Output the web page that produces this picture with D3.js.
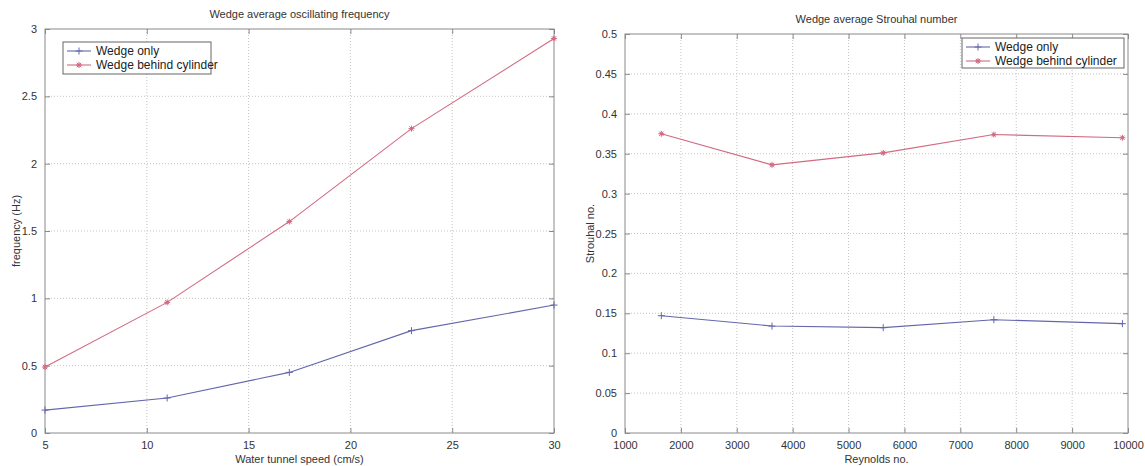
<!DOCTYPE html>
<html>
<head>
<meta charset="utf-8">
<script src="https://cdn.jsdelivr.net/npm/d3@7"></script>
<style>
  html, body { margin: 0; padding: 0; background: #ffffff; }
  svg { display: block; font-family: "Liberation Sans", Arial, sans-serif; }
</style>
</head>
<body>
<svg id="chart" width="1145" height="466"></svg>
<script>
// ---- Left chart data ----
const speedCategories = [5, 11, 17, 23, 30];
const freqWedgeOnly = [0.17, 0.26, 0.45, 0.76, 0.95];
const freqBehindCylinder = [0.49, 0.97, 1.57, 2.26, 2.93];
const leftXTicks = [5, 10, 15, 20, 25, 30];
const leftYTicks = [0, 0.5, 1, 1.5, 2, 2.5, 3];

// ---- Right chart data ----
const reynoldsCategories = [1650, 3630, 5620, 7600, 9900];
const strouhalWedgeOnly = [0.147, 0.134, 0.132, 0.142, 0.137];
const strouhalBehindCylinder = [0.375, 0.336, 0.351, 0.374, 0.370];
const rightXTicks = [1000, 2000, 3000, 4000, 5000, 6000, 7000, 8000, 9000, 10000];
const rightYTicks = [0, 0.05, 0.1, 0.15, 0.2, 0.25, 0.3, 0.35, 0.4, 0.45, 0.5];

const seriesNames = ["Wedge only", "Wedge behind cylinder"];
const BLUE = "#6466ac";
const RED = "#d26a82";
const TEXT = "#333333";
const AXIS = "#8a8a8a";
const GRID = "#c4c4c4";

const svg = d3.select("#chart");

function drawPanel(cfg) {
  const g = svg.append("g");
  const x = d3.scaleLinear().domain(cfg.xDomain).range([cfg.left, cfg.right]);
  const y = d3.scaleLinear().domain(cfg.yDomain).range([cfg.bottom, cfg.top]);
  const W = cfg.right - cfg.left, H = cfg.bottom - cfg.top;

  // grid
  const grid = g.append("g");
  grid.selectAll("line.gx").data(cfg.xTicks.slice(1, -1)).enter().append("line")
    .attr("x1", d => x(d)).attr("x2", d => x(d))
    .attr("y1", cfg.top).attr("y2", cfg.bottom)
    .attr("stroke", GRID).attr("stroke-width", 1).attr("stroke-dasharray", "1,2");
  grid.selectAll("line.gy").data(cfg.yTicks.slice(1, -1)).enter().append("line")
    .attr("y1", d => y(d)).attr("y2", d => y(d))
    .attr("x1", cfg.left).attr("x2", cfg.right)
    .attr("stroke", GRID).attr("stroke-width", 1).attr("stroke-dasharray", "1,2");

  // axes (inward ticks, MATLAB style)
  const fmt = d => String(d);
  g.append("g").attr("transform", `translate(0,${cfg.bottom})`)
    .call(d3.axisBottom(x).tickValues(cfg.xTicks).tickSize(-5).tickPadding(8).tickFormat(fmt))
    .call(a => { a.select(".domain").remove(); });
  g.append("g").attr("transform", `translate(0,${cfg.top})`)
    .call(d3.axisTop(x).tickValues(cfg.xTicks).tickSize(-5).tickFormat(""))
    .call(a => { a.select(".domain").remove(); });
  g.append("g").attr("transform", `translate(${cfg.left},0)`)
    .call(d3.axisLeft(y).tickValues(cfg.yTicks).tickSize(-5).tickPadding(8).tickFormat(fmt))
    .call(a => { a.select(".domain").remove(); });
  g.append("g").attr("transform", `translate(${cfg.right},0)`)
    .call(d3.axisRight(y).tickValues(cfg.yTicks).tickSize(-5).tickFormat(""))
    .call(a => { a.select(".domain").remove(); });
  g.selectAll(".tick line").attr("stroke", AXIS);
  g.selectAll(".tick text").attr("fill", TEXT).style("font-size", "11px")
    .style("font-family", '"Liberation Sans", Arial, sans-serif');

  // box
  g.append("rect").attr("x", cfg.left).attr("y", cfg.top).attr("width", W).attr("height", H)
    .attr("fill", "none").attr("stroke", AXIS).attr("stroke-width", 1);

  // series
  const line = d3.line().x(d => x(d[0])).y(d => y(d[1]));
  const series = [
    { vals: cfg.s1, color: BLUE, marker: "plus" },
    { vals: cfg.s2, color: RED, marker: "star" }
  ];
  series.forEach(s => {
    const pts = cfg.xs.map((xv, i) => [xv, s.vals[i]]);
    g.append("path").datum(pts).attr("d", line)
      .attr("fill", "none").attr("stroke", s.color).attr("stroke-width", 1.1);
    const mk = g.selectAll(null).data(pts).enter().append("g")
      .attr("transform", d => `translate(${x(d[0])},${y(d[1])})`);
    drawMarker(mk, s.marker, s.color);
  });

  // title & labels
  g.append("text").attr("x", (cfg.left + cfg.right) / 2).attr("y", cfg.top - 11)
    .attr("text-anchor", "middle").attr("fill", TEXT).style("font-size", "11px").text(cfg.title);
  g.append("text").attr("x", (cfg.left + cfg.right) / 2).attr("y", cfg.bottom + 30)
    .attr("text-anchor", "middle").attr("fill", TEXT).style("font-size", "11px").text(cfg.xLabel);
  g.append("text")
    .attr("transform", `translate(${cfg.yLabelX},${(cfg.top + cfg.bottom) / 2}) rotate(-90)`)
    .attr("text-anchor", "middle").attr("fill", TEXT).style("font-size", "11px").text(cfg.yLabel);

  // legend
  const lg = g.append("g").attr("transform", `translate(${cfg.legend.x},${cfg.legend.y})`);
  lg.append("rect").attr("width", cfg.legend.w).attr("height", cfg.legend.h)
    .attr("fill", "#ffffff").attr("stroke", "#666").attr("stroke-width", 1);
  seriesNames.forEach((name, i) => {
    const cy = 9 + i * 14;
    const item = lg.append("g").attr("transform", `translate(0,${cy})`);
    item.append("line").attr("x1", 4).attr("x2", 28).attr("y1", 0).attr("y2", 0)
      .attr("stroke", series[i].color).attr("stroke-width", 1.1);
    const m = item.append("g").attr("transform", "translate(16,0)");
    drawMarker(m, series[i].marker, series[i].color);
    item.append("text").attr("x", 33).attr("y", 4).attr("fill", "#222")
      .style("font-size", "12px").text(name);
  });
}

function drawMarker(sel, type, color) {
  if (type === "plus") {
    sel.append("line").attr("x1", -3.5).attr("x2", 3.5).attr("stroke", color).attr("stroke-width", 1);
    sel.append("line").attr("y1", -3.5).attr("y2", 3.5).attr("stroke", color).attr("stroke-width", 1);
  } else {
    sel.append("line").attr("x1", -3).attr("x2", 3).attr("stroke", color).attr("stroke-width", 1);
    sel.append("line").attr("y1", -3).attr("y2", 3).attr("stroke", color).attr("stroke-width", 1);
    sel.append("line").attr("x1", -2.2).attr("x2", 2.2).attr("y1", -2.2).attr("y2", 2.2).attr("stroke", color).attr("stroke-width", 1);
    sel.append("line").attr("x1", -2.2).attr("x2", 2.2).attr("y1", 2.2).attr("y2", -2.2).attr("stroke", color).attr("stroke-width", 1);
    sel.append("circle").attr("r", 1.6).attr("fill", color);
  }
}

drawPanel({
  left: 45, right: 554, top: 29, bottom: 433,
  xDomain: [5, 30], yDomain: [0, 3],
  xTicks: leftXTicks, yTicks: leftYTicks,
  xs: speedCategories, s1: freqWedgeOnly, s2: freqBehindCylinder,
  title: "Wedge average oscillating frequency",
  xLabel: "Water tunnel speed (cm/s)",
  yLabel: "frequency (Hz)", yLabelX: 20,
  legend: { x: 63, y: 42, w: 148, h: 32 }
});

drawPanel({
  left: 625, right: 1128, top: 34, bottom: 433,
  xDomain: [1000, 10000], yDomain: [0, 0.5],
  xTicks: rightXTicks, yTicks: rightYTicks,
  xs: reynoldsCategories, s1: strouhalWedgeOnly, s2: strouhalBehindCylinder,
  title: "Wedge average Strouhal number",
  xLabel: "Reynolds no.",
  yLabel: "Strouhal no.", yLabelX: 594,
  legend: { x: 962, y: 38, w: 162, h: 30 }
});
</script>
</body>
</html>
